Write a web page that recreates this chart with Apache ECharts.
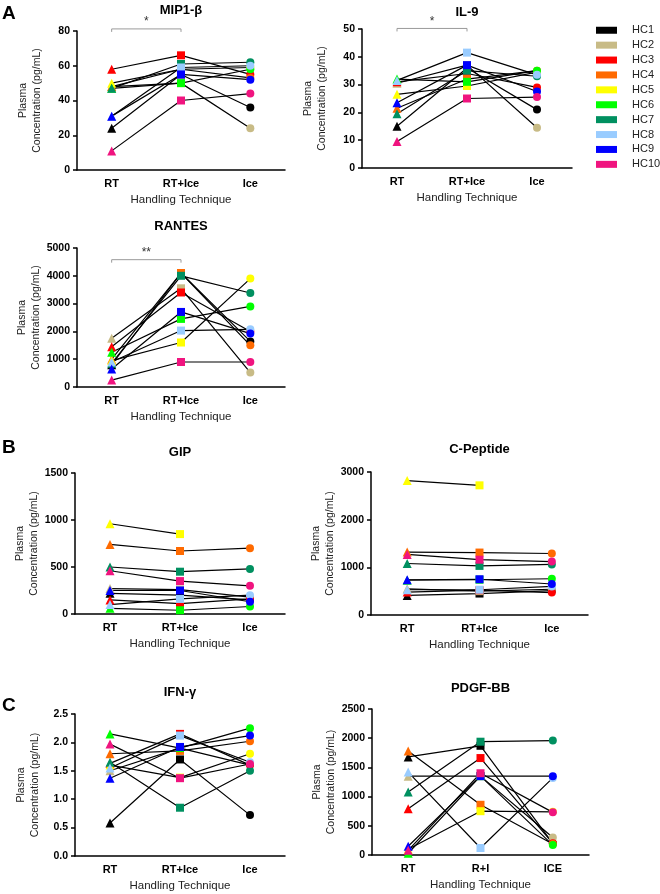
<!DOCTYPE html>
<html><head><meta charset="utf-8">
<script src="https://cdn.jsdelivr.net/npm/echarts@6/dist/echarts.min.js"></script>
<style>html,body{margin:0;padding:0;background:#fff}#c{width:660px;height:894px}</style>
</head><body><div id="c"></div>
<script>
// ---------- DATA ----------
const subjects = ['HC1','HC2','HC3','HC4','HC5','HC6','HC7','HC8','HC9','HC10'];
const catsStd  = ['RT','RT+Ice','Ice'];
const catsPdgf = ['RT','R+I','ICE'];
// each row: one subject, values at [RT, RT+Ice, Ice]
const mip1b = [[24,55,36],[48,50,24],[58,66,55],[48,58,53],[50,58,59],[47,50,58],[47,61,62],[31,59,60],[31,55,52],[11,40,44]];
const il9   = [[15,36,21],[30.5,37,14.5],[31,34,29],[21.5,32,35],[26.5,29.5,34.5],[32,31,35],[19.5,35,33],[31.5,41.5,33.5],[23.5,37,27.5],[9.5,25,25.5]];
const rantes = [[800,4100,1640],[1750,3550,520],[1450,3400,2000],[1000,4100,1500],[950,1600,3900],[1250,2450,2900],[850,4000,3380],[900,2030,2075],[650,2700,1920],[250,900,900]];
const gip   = [[220,200,150],[270,260,180],[150,110,160],[740,670,700],[960,850,null],[60,40,80],[500,450,480],[100,160,200],[250,250,130],[460,350,300]];
const cpep  = [[410,450,510],[550,500,540],[480,520,470],[1320,1310,1290],[2820,2720,null],[730,740,760],[1080,1030,1060],[530,530,600],[740,750,650],[1270,1160,1120]];
const ifng  = [[0.58,1.7,0.72],[1.5,1.9,1.6],[1.63,2.15,1.6],[1.8,1.85,2.02],[1.6,1.38,1.8],[2.15,1.9,2.25],[1.65,0.85,1.5],[1.55,2.12,1.65],[1.37,1.92,2.12],[1.97,1.37,1.62]];
const pdgf  = [[1680,1870,200],[1350,1350,300],[790,1660,200],[1780,860,190],[100,750,740],[30,1350,170],[1080,1940,1960],[1420,120,1320],[150,1350,1350],[80,1400,730]];
const titles = ['MIP1-\u03b2','IL-9','RANTES','GIP','C-Peptide','IFN-\u03b3','PDGF-BB'];
const yScales = [[0,80,20],[0,50,10],[0,5000,1000],[0,1500,500],[0,3000,1000],[0,2.5,0.5],[0,2500,500]];
const sigMarks = [{panel:0,label:'*',y:81.2},{panel:1,label:'*',y:50.2},{panel:2,label:'**',y:4580}];

// ---------- STYLE / LAYOUT ----------
const colors = ['#000000','#C8BB86','#FF0000','#FF6A00','#FFFF00','#00FF00','#009060','#99CCFF','#0000FF','#F0147F'];
const panelData = [mip1b, il9, rantes, gip, cpep, ifng, pdgf];
const panelCats = [catsStd,catsStd,catsStd,catsStd,catsStd,catsStd,catsPdgf];
const grids = [
  {left:77, top:31, width:208, height:139, ty:10},
  {left:362,top:29, width:210, height:139, ty:12},
  {left:77, top:248,width:208, height:139, ty:226},
  {left:75, top:473,width:210, height:141, ty:452},
  {left:371,top:472,width:217, height:143, ty:449},
  {left:75, top:714,width:210, height:142, ty:692},
  {left:372,top:709,width:217, height:146, ty:688}
];
const FF = '"Liberation Sans", Arial, sans-serif';
const chart = echarts.init(document.getElementById('c'), null, {renderer:'canvas'});

const option = {
  animation:false,
  backgroundColor:'#fff',
  grid: grids.map(g=>({left:g.left, top:g.top, width:g.width, height:g.height})),
  xAxis: grids.map((g,i)=>({
    gridIndex:i, type:'category', data:panelCats[i], boundaryGap:true,
    axisLine:{lineStyle:{color:'#000', width:1.5}},
    axisTick:{alignWithLabel:true, length:4, lineStyle:{color:'#000', width:1.5}},
    axisLabel:{color:'#000', fontWeight:'bold', fontSize:11, fontFamily:FF, margin:8},
    name:'Handling Technique', nameLocation:'middle', nameGap:24,
    nameTextStyle:{color:'#222', fontSize:11.5, fontFamily:FF, verticalAlign:'top'}
  })),
  yAxis: grids.map((g,i)=>({
    gridIndex:i, type:'value', min:yScales[i][0], max:yScales[i][1], interval:yScales[i][2],
    splitLine:{show:false},
    axisLine:{show:true, lineStyle:{color:'#000', width:1.5}},
    axisTick:{show:true, length:4, lineStyle:{color:'#000', width:1.5}},
    axisLabel:{color:'#000', fontWeight:'bold', fontSize:10.5, fontFamily:FF, margin:7,
      formatter: i===5 ? (v=>v.toFixed(1)) : (v=>String(v))},
    name:'Plasma\nConcentration (pg/mL)', nameLocation:'middle', nameGap:33, nameRotate:90,
    nameTextStyle:{color:'#222', fontSize:10.5, lineHeight:14, fontFamily:FF, align:'center'}
  })),
  legend:{
    orient:'vertical', left:596, top:24, itemWidth:21, itemHeight:7, itemGap:2.4, padding:0,
    icon:'rect',
    textStyle:{fontSize:11, fontFamily:FF, color:'#222', lineHeight:12.5, padding:[0,0,0,10]},
    data: subjects.map((s,k)=>({name:s, icon:'rect', itemStyle:{color:colors[k]}}))
  },
  series:[]
};
const symOf = ['triangle','rect','circle'];
panelData.forEach((rows,i)=>{
  rows.forEach((vals,k)=>{
    option.series.push({
      type:'line', name:subjects[k], xAxisIndex:i, yAxisIndex:i, data:vals,
      symbol:'none', lineStyle:{color:'#000', width:1.2}, itemStyle:{color:colors[k]},
      z:2, silent:true
    });
    option.series.push({
      type:'scatter', name:subjects[k], xAxisIndex:i, yAxisIndex:i, data:vals,
      symbol:(v,p)=>symOf[p.dataIndex],
      symbolSize:(v,p)=>p.dataIndex===0?9:8,
      itemStyle:{color:colors[k], opacity:1}, z:3, silent:true
    });
  });
});
chart.setOption(option);

// titles, panel letters, significance brackets
const gfx = [];
grids.forEach((g,i)=>{
  gfx.push({type:'text', x:g.left+g.width/2, y:g.ty,
    style:{text:titles[i], fill:'#000', font:'bold 13px '+FF, align:'center', verticalAlign:'middle'}});
});
[['A',13.5],['B',447.5],['C',706]].forEach(([t,y])=>{
  gfx.push({type:'text', x:2, y:y, style:{text:t, fill:'#000', font:'bold 19px '+FF, align:'left', verticalAlign:'middle'}});
});
sigMarks.forEach(m=>{
  const p0 = chart.convertToPixel({xAxisIndex:m.panel, yAxisIndex:m.panel},[0,m.y]);
  const p1 = chart.convertToPixel({xAxisIndex:m.panel, yAxisIndex:m.panel},[1,m.y]);
  gfx.push({type:'polyline', shape:{points:[[p0[0],p0[1]+3],[p0[0],p0[1]],[p1[0],p1[1]],[p1[0],p1[1]+3]]},
    style:{stroke:'#9a9a9a', lineWidth:1, fill:null}});
  gfx.push({type:'text', x:(p0[0]+p1[0])/2, y:p0[1]-1,
    style:{text:m.label, fill:'#333', font:'12px '+FF, align:'center', verticalAlign:'bottom'}});
});
chart.setOption({graphic:gfx});
</script></body></html>
